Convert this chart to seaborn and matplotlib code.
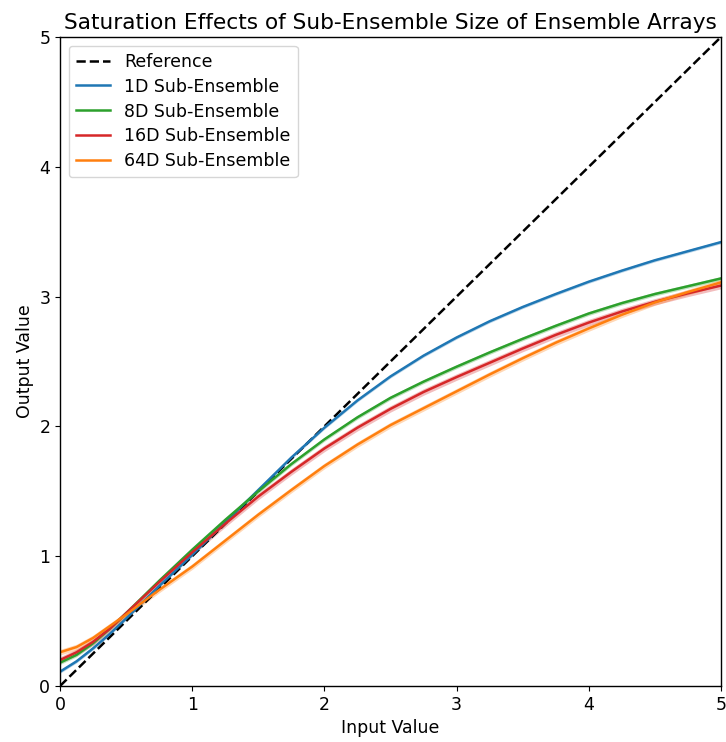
import numpy as np
import pandas as pd
import matplotlib
matplotlib.use("Agg")
import matplotlib.pyplot as plt
import seaborn as sns

x_vals = [0.0, 0.125, 0.25, 0.375, 0.5, 0.75, 1.0, 1.25, 1.5, 1.75, 2.0, 2.25, 2.5,
          2.75, 3.0, 3.25, 3.5, 3.75, 4.0, 4.25, 4.5, 4.75, 5.0]
y_1d = [0.11, 0.19, 0.29, 0.40, 0.52, 0.77, 1.01, 1.26, 1.51, 1.76, 1.99, 2.20, 2.385,
        2.545, 2.685, 2.81, 2.92, 3.02, 3.115, 3.20, 3.28, 3.35, 3.42]
y_8d = [0.18, 0.24, 0.33, 0.44, 0.56, 0.81, 1.05, 1.28, 1.50, 1.71, 1.90, 2.07, 2.22,
        2.345, 2.46, 2.57, 2.675, 2.775, 2.87, 2.95, 3.02, 3.08, 3.14]
y_16d = [0.20, 0.26, 0.34, 0.44, 0.56, 0.80, 1.03, 1.25, 1.46, 1.65, 1.83, 1.99, 2.135,
         2.265, 2.38, 2.49, 2.60, 2.705, 2.80, 2.885, 2.96, 3.025, 3.085]
y_64d = [0.26, 0.30, 0.37, 0.46, 0.55, 0.74, 0.92, 1.12, 1.32, 1.51, 1.695, 1.86, 2.01,
         2.14, 2.27, 2.40, 2.525, 2.645, 2.755, 2.86, 2.955, 3.035, 3.11]
band_half = [0.012, 0.015, 0.025, 0.022]  # shaded band half-widths: 1D, 8D, 16D, 64D

labels = ["1D Sub-Ensemble", "8D Sub-Ensemble", "16D Sub-Ensemble", "64D Sub-Ensemble"]
colors = ["#1f77b4", "#2ca02c", "#d62728", "#ff7f0e"]
series = [y_1d, y_8d, y_16d, y_64d]

plt.rcParams["font.family"] = ["DejaVu Sans"]

fig = plt.figure(figsize=(7.26, 7.42), dpi=100)
ax = fig.add_axes([60/726, 56/742, 661/726, 649/742])

ref = pd.DataFrame({"x": [0, 5], "y": [0, 5]})
sns.lineplot(data=ref, x="x", y="y", ax=ax, color="black", linestyle="--",
             linewidth=1.8, label="Reference")

for ys, lab, col, bh in zip(series, labels, colors, band_half):
    df = pd.DataFrame({"x": x_vals, "y": ys})
    ya = np.array(ys)
    ax.fill_between(x_vals, ya - bh, ya + bh, color=col, alpha=0.3, linewidth=0)
    sns.lineplot(data=df, x="x", y="y", ax=ax, color=col, linewidth=1.8, label=lab)

ax.set_xlim(0, 5)
ax.set_ylim(0, 5)
ax.set_xticks([0, 1, 2, 3, 4, 5])
ax.set_yticks([0, 1, 2, 3, 4, 5])
ax.tick_params(labelsize=12.5, colors="black")
ax.set_xlabel("Input Value", fontsize=12.5, color="black")
ax.set_ylabel("Output Value", fontsize=12.5, color="black")
ax.set_title("Saturation Effects of Sub-Ensemble Size of Ensemble Arrays",
             fontsize=15.6, color="black")
for s in ax.spines.values():
    s.set_visible(True)
    s.set_linewidth(1.0)
    s.set_color("black")
ax.legend(loc="upper left", fontsize=12.5, frameon=True, labelspacing=0.4)

fig.savefig("out.png", dpi=100)
